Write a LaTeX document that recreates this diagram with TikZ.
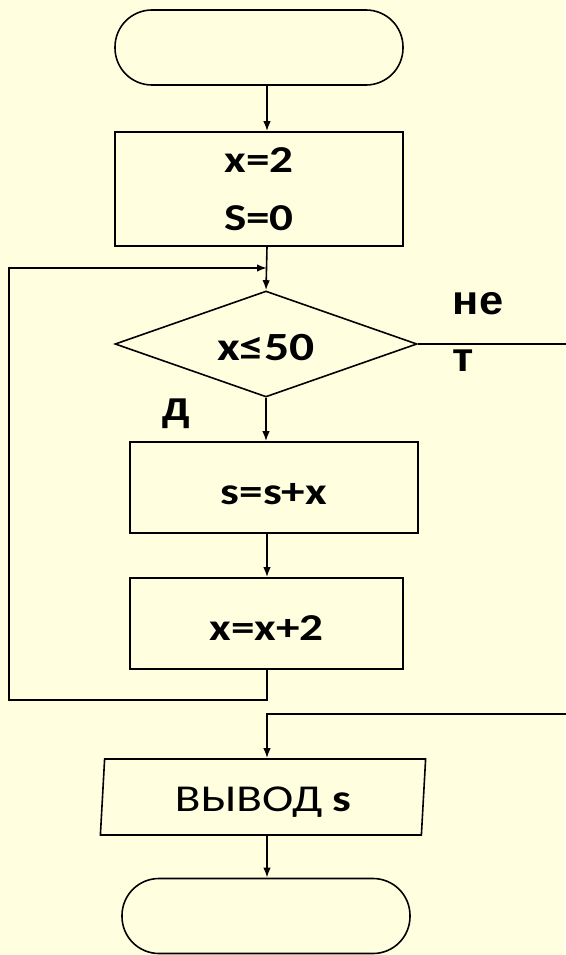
\documentclass[tikz,border=0pt]{standalone}
\usepackage{fontspec}
\setmainfont{Carlito}[FakeStretch=1.24]
\newfontfamily\labelfont{Liberation Sans}[FakeStretch=1.06]
\usetikzlibrary{shapes.geometric, arrows.meta}
\definecolor{paper}{RGB}{255,255,224}

\begin{document}
\begin{tikzpicture}[x=1pt, y=-1pt, line width=1.6pt, >={Latex[length=10pt,width=7.5pt]},
    low/.style = {execute at begin node=\rule{0pt}{34pt}},
    term/.style = {draw, rounded corners=37pt, minimum width=288pt, minimum height=75pt},
    proc/.style = {draw, rectangle, low, minimum height=91pt, align=center, font=\fontsize{38}{58}\selectfont\bfseries},
    cond/.style = {draw, diamond, low, aspect=2.85, minimum width=302pt, minimum height=106pt, inner sep=0pt, font=\fontsize{40}{48}\selectfont\bfseries},
    io/.style = {draw, trapezium, low, trapezium left angle=87, trapezium right angle=93, trapezium stretches=true, minimum width=326pt, minimum height=76pt, font=\fontsize{38}{46}\selectfont},
    lbl/.style = {inner sep=0pt, align=left, font=\labelfont\fontsize{41}{57}\selectfont\bfseries}]
    \fill[paper] (0,0) rectangle (565,955);
    \useasboundingbox (0,0) rectangle (565,955);
		\coordinate (axis) at (267,0);
		\node[term] (begin) at (259,47.5) {};
		\node[proc, minimum width=288pt, minimum height=114pt] (init) at (259,189) {x=2\\S=0};
		\node[cond] (check) at (266,344) {x≤50};
		\node[proc, minimum width=288pt] (add) at (274,487.5) {s=s+x};
		\node[proc, minimum width=273pt] (inc) at (266.5,623.5) {x=x+2};
		\node[io] (out) at (263,797) {ВЫВОД\hspace{10pt}\textbf{s}};
		\node[term] (stop) at (266,916) {};
		\node[lbl, anchor=north west] (no) at (452,292) {не\\т};
		\node[lbl, anchor=base west] (yes) at (162,420) {д};
		\coordinate (join) at (267,268);
		\coordinate (loopcorner) at (9,700);
		\coordinate (rightedge) at (568,714);
		\draw[->] (begin.south -| axis) -- (init.north -| axis);
		\draw[->] (init.south -| axis) -- (check.north);
		\draw[->] (check.south) -- (add.north -| check);
		\draw[->] (add.south -| axis) -- (inc.north -| axis);
		\draw[->] (inc.south -| axis) |- (loopcorner) |- (join);
		\draw[->] (check.east) -| (rightedge) -| (out.north -| axis);
		\draw[->] (out.south -| axis) -- (stop.north -| axis);
\end{tikzpicture}
\end{document}
